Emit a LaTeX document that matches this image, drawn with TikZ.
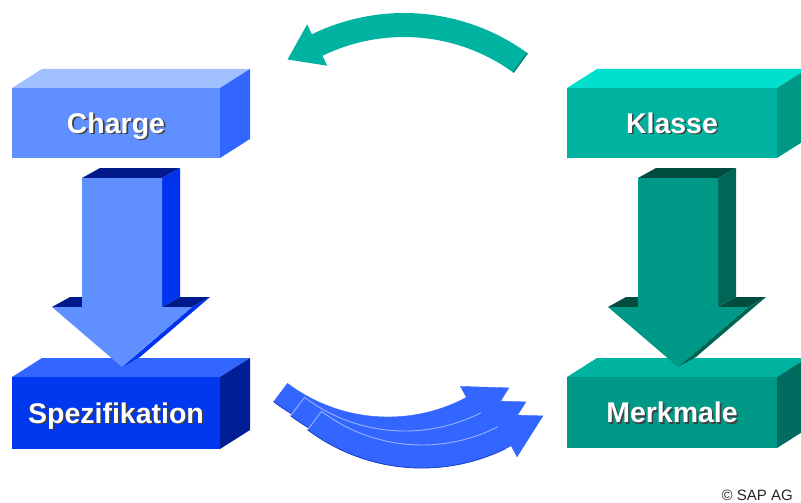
\documentclass[tikz,border=0pt]{standalone}
\usepackage{fontspec}
\setmainfont{Liberation Sans}

% face colours: F = front, T = top, S = side
\definecolor{chargeF}{RGB}{96,144,255}
\definecolor{chargeT}{RGB}{160,192,255}
\definecolor{chargeS}{RGB}{51,102,255}
\definecolor{spezF}{RGB}{0,56,240}
\definecolor{spezT}{RGB}{51,102,255}
\definecolor{spezS}{RGB}{0,30,150}
\definecolor{larrowS}{RGB}{0,51,238}
\definecolor{larrowT}{RGB}{0,26,140}
\definecolor{klasseF}{RGB}{0,179,160}
\definecolor{klasseT}{RGB}{0,224,204}
\definecolor{klasseS}{RGB}{0,153,133}
\definecolor{merkF}{RGB}{0,153,136}
\definecolor{merkT}{RGB}{0,179,160}
\definecolor{merkS}{RGB}{0,107,94}
\definecolor{rarrowS}{RGB}{0,102,85}
\definecolor{rarrowT}{RGB}{0,77,64}
\definecolor{loopteal}{RGB}{0,179,160}
\definecolor{looptealdark}{RGB}{0,120,105}
\definecolor{bandblue}{RGB}{51,102,255}
\definecolor{bandlight}{RGB}{153,179,255}
\definecolor{banddark}{RGB}{26,64,204}

% white label with a dark drop shadow
\newcommand{\shadowtext}[1]{\makebox[0pt][l]{\kern1.6pt\raisebox{-1.6pt}{\textcolor{black!75}{#1}}}#1}

% 3D box: name, x1, y1, x2, y2, front, top, side, label
% the label's baseline sits so that its capitals are centred on the front face
\newcommand{\cuboid}[9]{%
  \fill[#7] (#2,#3) -- (#4,#3) -- ++(30,-19) -- ++({#2-#4},0) -- cycle;
  \fill[#8] (#4,#3) -- ++(30,-19) -- ++(0,{#5-#3}) -- (#4,#5) -- cycle;
  \fill[#6] (#2,#3) rectangle (#4,#5);
  \node[boxlabel] (#1) at ({(#2+#4)/2},{(#3+#5)/2+10.2}) {\shadowtext{#9}};
}

% 3D down arrow: centre x, front, side, top
\newcommand{\arrowdown}[4]{%
  \pgfmathsetmacro\arL{#1-40}
  \pgfmathsetmacro\arR{#1+40}
  \pgfmathsetmacro\arHL{#1-70}
  \pgfmathsetmacro\arHR{#1+70}
  \fill[#4] (\arL,178) -- (\arR,178) -- ++(18,-10) -- ++(-80,0) -- cycle;
  \fill[#3] (\arR,178) -- ++(18,-10) -- ++(0,129) -- (\arR,307) -- cycle;
  \fill[#4] (\arHL,307) -- (\arL,307) -- ++(18,-10) -- ++(-30,0) -- cycle;
  \fill[#4] (\arR,307) -- (\arHR,307) -- ++(18,-10) -- ++(-30,0) -- cycle;
  \fill[#3] (\arHR,307) -- ++(18,-10) -- ({#1+18},357) -- (#1,367) -- cycle;
  \fill[#2] (\arL,178) -- (\arR,178) -- (\arR,307) -- (\arHR,307)
            -- (#1,367) -- (\arHL,307) -- (\arL,307) -- cycle;
}

\begin{document}
\begin{tikzpicture}[x=1pt,y=-1pt,
  boxlabel/.style={text=white,inner sep=0pt,anchor=base,
    font=\fontsize{28.5}{32}\selectfont\bfseries}]
\useasboundingbox (0,0) rectangle (801,503);

% boxes
\cuboid{charge}{12}{88}{220}{158}{chargeF}{chargeT}{chargeS}{Charge}
\cuboid{klasse}{567}{88}{777}{158}{klasseF}{klasseT}{klasseS}{Klasse}
\cuboid{spez}{12}{377}{220}{449}{spezF}{spezT}{spezS}{Spezifikation}
\cuboid{merk}{567}{377}{777}{448}{merkF}{merkT}{merkS}{Merkmale}

% down arrows (Charge -> Spezifikation, Klasse -> Merkmale)
\arrowdown{122}{chargeF}{larrowS}{larrowT}
\arrowdown{678}{merkF}{rarrowS}{rarrowT}

% curved arrow at the top, from Klasse back towards Charge
\fill[loopteal]
  plot[domain=-54:-116, samples=50] ({404+210*cos(\x)},{223+210*sin(\x)})
  -- ({404+221*cos(-116)},{223+221*sin(-116)})
  -- ({404+198*cos(-116)+33*sin(-116)},{223+198*sin(-116)-33*cos(-116)})
  -- ({404+175*cos(-116)},{223+175*sin(-116)})
  -- plot[domain=-116:-54, samples=50] ({404+186*cos(\x)},{223+186*sin(\x)})
  -- cycle;
\draw[looptealdark, line width=1.2pt]
  ({404+186*cos(-54)},{223+186*sin(-54)}) -- ({404+210*cos(-54)},{223+210*sin(-54)});

% stacked curved arrow at the bottom, from Spezifikation to Merkmale
\foreach \i in {0,1,2} {
  \pgfmathsetmacro\cx{388+17*\i}
  \pgfmathsetmacro\cy{250+14*\i}
  \fill[bandblue, draw=bandblue, line width=0.4pt]
    plot[domain=127:62, samples=50] ({\cx+167*cos(\x)},{\cy+167*sin(\x)})
    -- ({\cx+154.5*cos(62)},{\cy+154.5*sin(62)})
    -- ({\cx+178.5*cos(62)+42*sin(62)},{\cy+178.5*sin(62)-42*cos(62)})
    -- ({\cx+202.5*cos(62)},{\cy+202.5*sin(62)})
    -- plot[domain=62:127, samples=50] ({\cx+190*cos(\x)},{\cy+190*sin(\x)})
    -- cycle;
  \draw[banddark, line width=0.8pt]
    plot[domain=64:127, samples=50] ({\cx+190*cos(\x)},{\cy+190*sin(\x)});
  \ifnum\i>0
    \draw[bandlight, line width=0.9pt]
      ({\cx+190*cos(127)},{\cy+190*sin(127)})
      -- plot[domain=127:63, samples=50] ({\cx+167*cos(\x)},{\cy+167*sin(\x)});
  \fi
}

% copyright line
\node[anchor=base east, inner sep=0pt, text=black!85,
      font=\fontsize{15}{17}\selectfont] (copy) at (793,500) {© SAP AG};
\end{tikzpicture}
\end{document}
